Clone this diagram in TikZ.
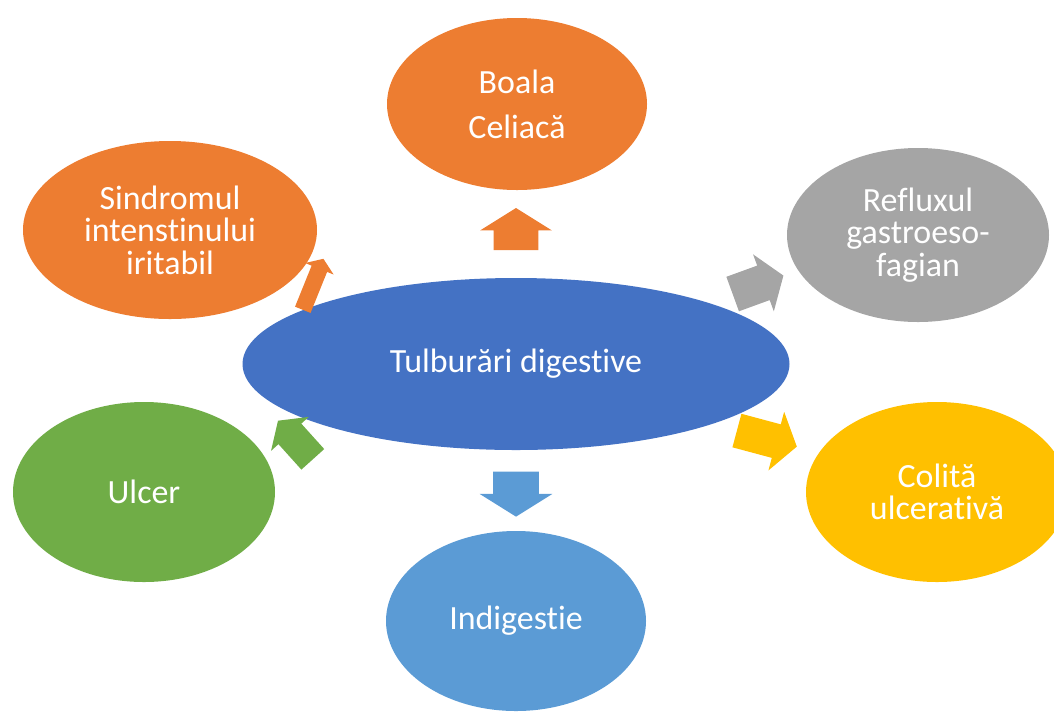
\documentclass[tikz,border=0pt]{standalone}
\usepackage{fontspec}
\setmainfont{Carlito}[Ligatures=NoCommon]
\usetikzlibrary{shapes.geometric,shapes.arrows}
\definecolor{accblue}{HTML}{4472C4}
\definecolor{accorange}{HTML}{ED7D31}
\definecolor{accgray}{HTML}{A5A5A5}
\definecolor{accyellow}{HTML}{FFC000}
\definecolor{acclight}{HTML}{5B9BD5}
\definecolor{accgreen}{HTML}{70AD47}
\def\unitpx{0.02cm}

\begin{document}
\begin{tikzpicture}[x=\unitpx, y=-\unitpx]
    \tikzstyle{bubble}=[ellipse, inner sep=0pt, text=white, align=center,
        font=\fontsize{19.3}{18.5}\selectfont]
    \tikzstyle{block arrow}=[single arrow, inner xsep=0pt, draw=none,
        single arrow tip angle=110]

    \useasboundingbox (0,0) rectangle (1054,711);

    % Draw the central topic
    \node[bubble, fill=accblue, minimum width=547*\unitpx, minimum height=172*\unitpx]
        (C) at (516,364) {Tulburări digestive};

    % Draw the surrounding topics
    \node[bubble, fill=accorange, minimum width=260*\unitpx, minimum height=172*\unitpx]
        (B) at (517,104) {Boala\\[7pt]Celiacă};
    \node[bubble, fill=accorange, minimum width=294*\unitpx, minimum height=178*\unitpx]
        (S) at (170,230) {Sindromul\\intenstinului\\iritabil};
    \node[bubble, fill=accgray, minimum width=262*\unitpx, minimum height=174*\unitpx]
        (R) at (918,235) {Refluxul\\gastroeso-\\fagian};
    \node[bubble, fill=accyellow, minimum width=262*\unitpx, minimum height=180*\unitpx]
        (CU) at (937,492) {Colită\\ulcerativă};
    \node[bubble, fill=accgreen, minimum width=262*\unitpx, minimum height=180*\unitpx]
        (U) at (144,492) {Ulcer};
    \node[bubble, fill=acclight, minimum width=260*\unitpx, minimum height=180*\unitpx]
        (IN) at (516,621) {Indigestie};

    % Arrows from the central topic
    \node[block arrow, fill=accorange, minimum height=42*\unitpx, inner ysep=22*\unitpx,
        single arrow head extend=13.5*\unitpx, single arrow tip angle=116, rotate=90]
        (A-1) at (516,236) {};
    \node[block arrow, fill=acclight, minimum height=45*\unitpx, inner ysep=22.5*\unitpx,
        single arrow head extend=13.5*\unitpx, single arrow tip angle=116, rotate=-90]
        (A-2) at (516,487) {};
    \node[block arrow, fill=accgray, minimum height=54*\unitpx, inner ysep=18*\unitpx,
        single arrow head extend=12*\unitpx, rotate=20] (A-3) at (752,287) {};
    \node[block arrow, fill=accyellow, minimum height=62*\unitpx, inner ysep=17*\unitpx,
        single arrow head extend=13*\unitpx, rotate=-15] (A-4) at (761,437) {};
    \node[block arrow, fill=accgreen, minimum height=52*\unitpx, inner ysep=15*\unitpx,
        single arrow head extend=10*\unitpx, rotate=132] (A-5) at (299,444) {};
    \node[block arrow, fill=accorange, minimum height=55*\unitpx, inner ysep=8*\unitpx,
        single arrow head extend=7*\unitpx, rotate=68] (A-6) at (312,287) {};
\end{tikzpicture}
\end{document}
